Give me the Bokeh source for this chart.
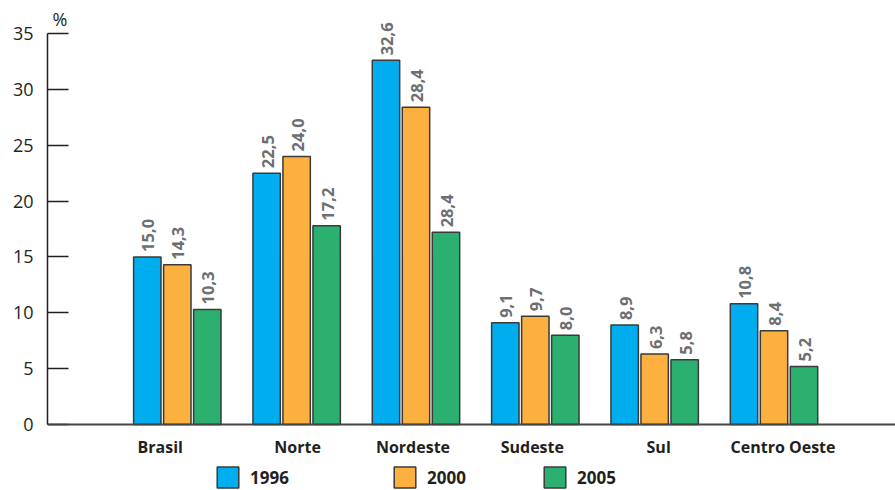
import numpy as np
from bokeh.plotting import figure
from bokeh.models import (ColumnDataSource, Range1d, FixedTicker, Span, Label,
                          Legend, LegendItem)
from bokeh.transform import dodge
from bokeh.core.properties import value
from bokeh.embed import file_html
from bokeh.resources import INLINE

# ---- data ----
categories = ["Brasil", "Norte", "Nordeste", "Sudeste", "Sul", "Centro Oeste"]
years = ["1996", "2000", "2005"]
# bar heights as drawn in the reference
h1996 = [15.0, 22.5, 32.6, 9.1, 8.9, 10.8]
h2000 = [14.3, 24.0, 28.4, 9.7, 6.3, 8.4]
h2005 = [10.3, 17.8, 17.2, 8.0, 5.8, 5.2]
# labels as printed in the reference
l1996 = ["15,0", "22,5", "32,6", "9,1", "8,9", "10,8"]
l2000 = ["14,3", "24,0", "28,4", "9,7", "6,3", "8,4"]
l2005 = ["10,3", "17,2", "28,4", "8,0", "5,8", "5,2"]
y_ticks = [0, 5, 10, 15, 20, 25, 30, 35]
unit_label = "%"

# ---- styles ----
colors = ["#00aeef", "#fbb040", "#2bb06f"]
label_color = "#6d6e71"
dark = "#231f20"
FONT = "Open Sans"
cat_label_offsets = [-17, 1, -3, -3, 4, 9]

W, H = 895, 490
src = ColumnDataSource(dict(
    x=np.arange(len(categories)), cat=categories, cat_off=cat_label_offsets,
    h1996=h1996, h2000=h2000, h2005=h2005,
    l1996=l1996, l2000=l2000, l2005=l2005,
    zero=[0] * len(categories),
))

p = figure(width=W, height=H, output_backend="svg", toolbar_location=None,
           x_range=Range1d(-1.0876, 6.018), y_range=Range1d(-5.908, 37.954),
           x_axis_location=None, min_border_left=47, min_border_right=0,
           min_border_top=0, min_border_bottom=0)
p.outline_line_color = None
p.grid.visible = False
p.background_fill_color = "white"
p.border_fill_color = "white"

yax = p.yaxis[0]
yax.bounds = (0, 35)
yax.ticker = FixedTicker(ticks=y_ticks)
yax.minor_tick_line_color = None
yax.major_tick_in = 21
yax.major_tick_out = 0
yax.major_tick_line_color = dark
yax.major_tick_line_width = 1.5
yax.axis_line_color = dark
yax.axis_line_width = 1.5
yax.major_label_standoff = 14
yax.major_label_text_font = FONT
yax.major_label_text_font_size = "18px"
yax.major_label_text_color = dark

p.add_layout(Span(location=0, dimension="width", line_color="#444444", line_width=2))

step = 0.2514
bw = 0.2296
renderers = []
for i, (yr, c) in enumerate(zip(years, colors)):
    off = (i - 1) * step
    r = p.vbar(x=dodge("x", off), top="h" + yr, width=bw, source=src,
               fill_color=c, line_color="#3a3a3a", line_width=1.5)
    renderers.append(r)
    p.text(x=dodge("x", off), y="h" + yr, text="l" + yr, source=src,
           angle=np.pi / 2, text_align="left", text_baseline="middle",
           x_offset=1, y_offset=-5,
           text_font=value(FONT), text_font_size="16.5px", text_font_style="bold",
           text_color=label_color)

p.text(x="x", y="zero", text="cat", source=src, x_offset="cat_off", y_offset=23,
       text_align="center", text_baseline="middle",
       text_font=value(FONT), text_font_size="16px", text_font_style="bold",
       text_color=dark)

p.add_layout(Label(x=5, x_units="screen", y=36.3, text=unit_label,
                   text_baseline="middle", text_font=FONT,
                   text_font_size="18px", text_color=dark))

leg_x = [167, 344, 494]
for yr, r, lx in zip(years, renderers, leg_x):
    lg = Legend(items=[LegendItem(label=yr, renderers=[r])], location=(lx, 0),
                orientation="horizontal", padding=0, margin=0, spacing=0,
                glyph_width=27, glyph_height=26, label_standoff=9,
                label_text_font=FONT, label_text_font_size="17px",
                label_text_font_style="bold", label_text_color=dark,
                border_line_color=None, background_fill_alpha=0)
    p.add_layout(lg, "center")

open("out.html", "w").write(file_html(p, INLINE))
